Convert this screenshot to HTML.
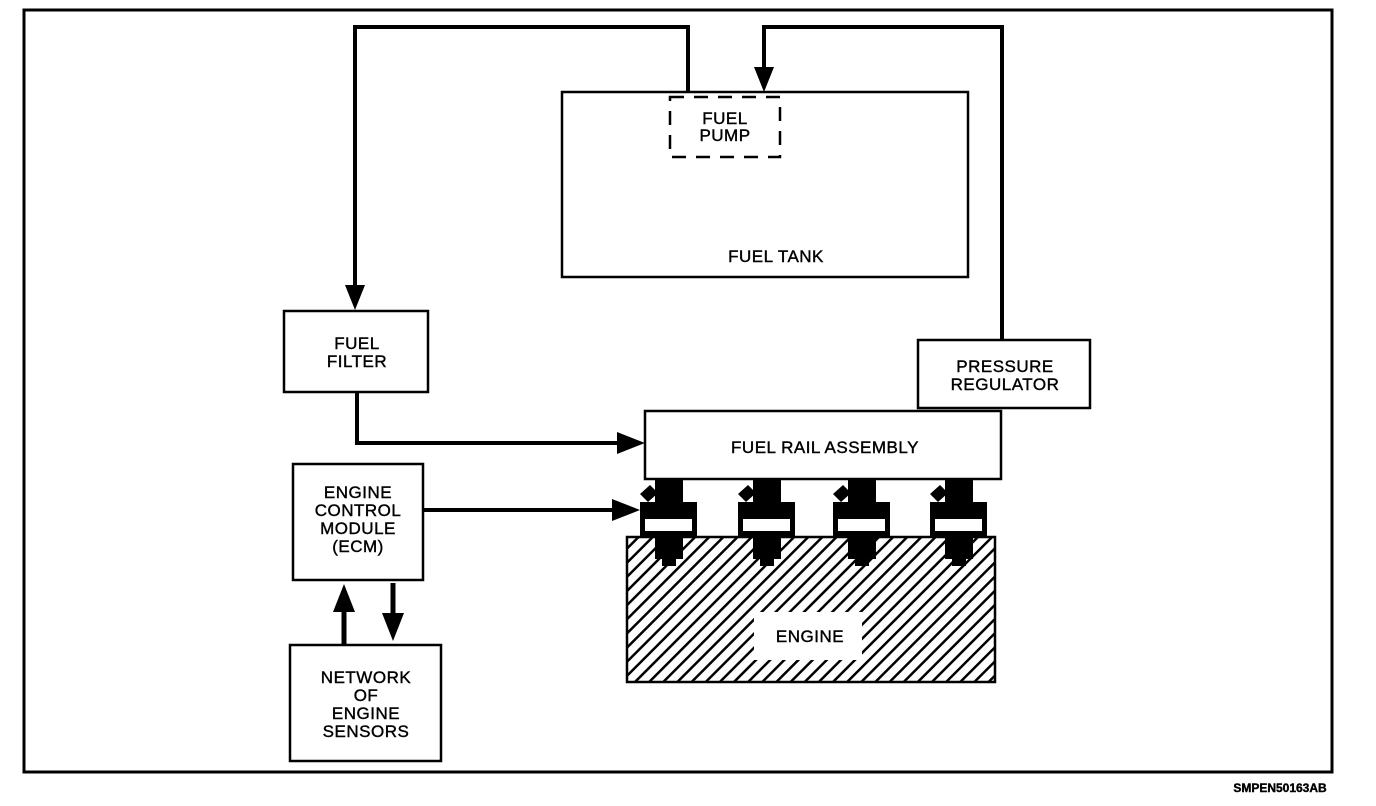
<!DOCTYPE html>
<html><head><meta charset="utf-8"><style>
html,body{margin:0;padding:0;background:#fff;}
svg{display:block;}
text{font-family:"Liberation Sans",sans-serif;font-size:17px;fill:#000;text-anchor:middle;letter-spacing:0.5px;stroke:#000;stroke-width:0.4;}
</style></head><body>
<svg width="1376" height="806" viewBox="0 0 1376 806" xmlns="http://www.w3.org/2000/svg">
<defs>
<pattern id="h" patternUnits="userSpaceOnUse" width="10" height="10" patternTransform="rotate(45)">
<rect width="10" height="10" fill="#fff"/>
<rect x="0" y="0" width="2.5" height="10" fill="#000"/>
</pattern>
</defs>
<rect x="24" y="10" width="1308" height="762" fill="none" stroke="#000" stroke-width="3"/>

<rect x="562" y="92" width="406" height="185" fill="none" stroke="#000" stroke-width="2.5"/>
<rect x="670" y="97" width="110" height="60" fill="none" stroke="#000" stroke-width="2.5" stroke-dasharray="14,10"/>
<text x="725" y="124">FUEL</text>
<text x="725" y="141">PUMP</text>
<text x="776" y="262">FUEL  TANK</text>

<polyline points="688,92 688,27 355,27 355,290" fill="none" stroke="#000" stroke-width="4"/>
<polygon points="345,285 365,285 355,310" fill="#000"/>
<polyline points="1002,340 1002,27 764,27 764,72" fill="none" stroke="#000" stroke-width="4"/>
<polygon points="754,67 774,67 764,92" fill="#000"/>

<rect x="284" y="311" width="144" height="81" fill="none" stroke="#000" stroke-width="2.5"/>
<text x="357" y="349">FUEL</text>
<text x="357" y="367">FILTER</text>
<polyline points="357,392 357,443 625,443" fill="none" stroke="#000" stroke-width="4"/>
<polygon points="617,432 617,454 645,443" fill="#000"/>

<rect x="918" y="340" width="172" height="68" fill="none" stroke="#000" stroke-width="2.5"/>
<text x="1005" y="372">PRESSURE</text>
<text x="1005" y="390">REGULATOR</text>

<rect x="645" y="411" width="356" height="68" fill="#fff" stroke="#000" stroke-width="2.5"/>
<text x="825" y="453">FUEL  RAIL  ASSEMBLY</text>

<rect x="627" y="537" width="368" height="145" fill="url(#h)" stroke="#000" stroke-width="2.5"/>
<rect x="754" y="612" width="108" height="48" fill="#fff"/>
<text x="810" y="642">ENGINE</text>

<g id="inj">
<rect x="655" y="480" width="28" height="24" fill="#000"/>
<polygon points="640,494 650,485 658,493 648,502" fill="#000"/>
<rect x="640" y="502" width="57" height="34" fill="#000"/>
<rect x="645" y="519" width="47" height="12" fill="#fff"/>
<rect x="655" y="536" width="28" height="23" fill="#000"/>
<rect x="662" y="556" width="14" height="10" fill="#000"/>
</g>
<use href="#inj" x="98"/>
<use href="#inj" x="193"/>
<use href="#inj" x="290"/>

<rect x="293" y="464" width="130" height="116" fill="none" stroke="#000" stroke-width="2.5"/>
<text x="358" y="498">ENGINE</text>
<text x="358" y="516">CONTROL</text>
<text x="358" y="534">MODULE</text>
<text x="358" y="552">(ECM)</text>
<line x1="423" y1="510" x2="618" y2="510" stroke="#000" stroke-width="4"/>
<polygon points="612,499 612,521 640,510" fill="#000"/>

<line x1="344" y1="645" x2="344" y2="605" stroke="#000" stroke-width="5"/>
<polygon points="333,612 355,612 344,584" fill="#000"/>
<line x1="393" y1="583" x2="393" y2="620" stroke="#000" stroke-width="5"/>
<polygon points="382,613 404,613 393,641" fill="#000"/>

<rect x="290" y="645" width="151" height="116" fill="none" stroke="#000" stroke-width="2.5"/>
<text x="366" y="683">NETWORK</text>
<text x="366" y="701">OF</text>
<text x="366" y="719">ENGINE</text>
<text x="366" y="737">SENSORS</text>

<text x="1280" y="792" style="font-size:12px;font-weight:bold;letter-spacing:0">SMPEN50163AB</text>
</svg>
</body></html>
